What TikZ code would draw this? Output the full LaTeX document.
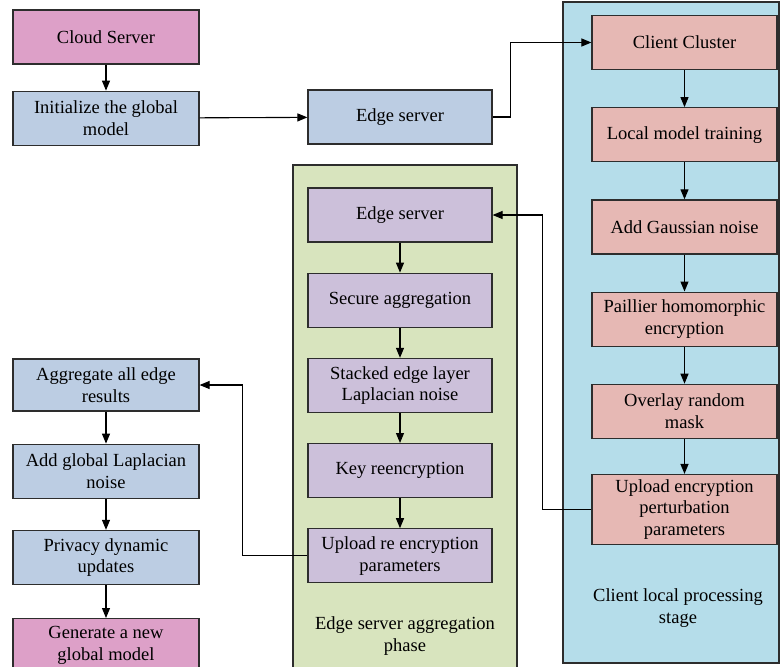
\documentclass[tikz,border=0pt]{standalone}
\usepackage{fontspec}
\setmainfont{Liberation Serif}
\usetikzlibrary{arrows.meta,positioning}
\definecolor{cloudpink}{RGB}{221,160,200}
\definecolor{globalblue}{RGB}{188,205,227}
\definecolor{clientbg}{RGB}{181,221,234}
\definecolor{clientred}{RGB}{230,184,180}
\definecolor{edgebg}{RGB}{216,228,190}
\definecolor{edgepurple}{RGB}{204,192,218}
\definecolor{linegray}{RGB}{45,45,45}
\tikzset{
  box/.style={rectangle, draw=linegray, line width=1.2pt, fill=#1,
              minimum width=186pt, minimum height=54pt, inner sep=1pt,
              font=\fontsize{18.5}{21.5}\selectfont, text centered, align=center},
  panel/.style={draw=linegray, line width=1.2pt, fill=#1},
  lbl/.style={font=\fontsize{18.5}{21.5}\selectfont, align=center},
  arr/.style={-{Triangle[length=10pt,width=8pt]}, line width=1.1pt, black},
}

\begin{document}
\begin{tikzpicture}[x=1pt,y=1pt]
  \clip (0,0) rectangle (780,-667);
  % stage panels
  \draw[panel=clientbg] (563,-2) rectangle (779,-663);
  \draw[panel=edgebg] (293,-165) rectangle (517,-690);
  \node[lbl] (clientlbl) at (678,-608) {Client local processing\\stage};
  \node[lbl] (edgelbl) at (405,-636) {Edge server aggregation\\phase};

  % cloud side
  \node[box=cloudpink] (cloud) at (106,-37) {Cloud Server};
  \node[box=globalblue, below=26pt of cloud] (init) {Initialize the global\\model};
  \node[box=globalblue, minimum width=184pt] (edgetop) at (400,-117) {Edge server};

  % client local processing
  \node[box=clientred, minimum width=185pt] (cluster) at (684.5,-42.5) {Client Cluster};
  \node[box=clientred, minimum width=185pt, below=37pt of cluster] (training) {Local model training};
  \node[box=clientred, minimum width=185pt, below=37pt of training] (gauss) {Add Gaussian noise};
  \node[box=clientred, minimum width=185pt, below=37pt of gauss] (paillier) {Paillier homomorphic\\encryption};
  \node[box=clientred, minimum width=185pt, below=37pt of paillier] (mask) {Overlay random\\mask};
  \node[box=clientred, minimum width=185pt, minimum height=70pt, below=35pt of mask] (upload)
        {Upload encryption\\perturbation\\parameters};

  % edge server aggregation
  \node[box=edgepurple, minimum width=184pt] (esrv) at (400,-215) {Edge server};
  \node[box=edgepurple, minimum width=184pt, below=30pt of esrv] (secagg) {Secure aggregation};
  \node[box=edgepurple, minimum width=184pt, below=30pt of secagg] (stacked) {Stacked edge layer\\Laplacian noise};
  \node[box=edgepurple, minimum width=184pt, below=30pt of stacked] (keyre) {Key reencryption};
  \node[box=edgepurple, minimum width=184pt, below=30pt of keyre] (upre) {Upload re encryption\\parameters};

  % global update
  \node[box=globalblue, minimum height=52pt] (aggall) at (106,-385) {Aggregate all edge\\results};
  \node[box=globalblue, below=32pt of aggall] (addlap) {Add global Laplacian\\noise};
  \node[box=globalblue, below=31pt of addlap] (privacy) {Privacy dynamic\\updates};
  \node[box=cloudpink, below=33pt of privacy] (newglobal) {Generate a new\\global model};

  % connectors
  \draw[arr] (cloud) -- (init);
  \draw[arr] (init) -- (edgetop);
  \draw[arr] (edgetop.east) -- ++(18pt,0) |- (cluster.west);
  \foreach \a/\b in {cluster/training, training/gauss, gauss/paillier, paillier/mask, mask/upload,
                     esrv/secagg, secagg/stacked, stacked/keyre, keyre/upre,
                     aggall/addlap, addlap/privacy, privacy/newglobal}
    \draw[arr] (\a) -- (\b);
  \draw[arr] (upload.west) -- ++(-49pt,0) |- (esrv.east);
  \draw[arr] (upre.west) -- ++(-65pt,0) |- (aggall.east);
\end{tikzpicture}
\end{document}
